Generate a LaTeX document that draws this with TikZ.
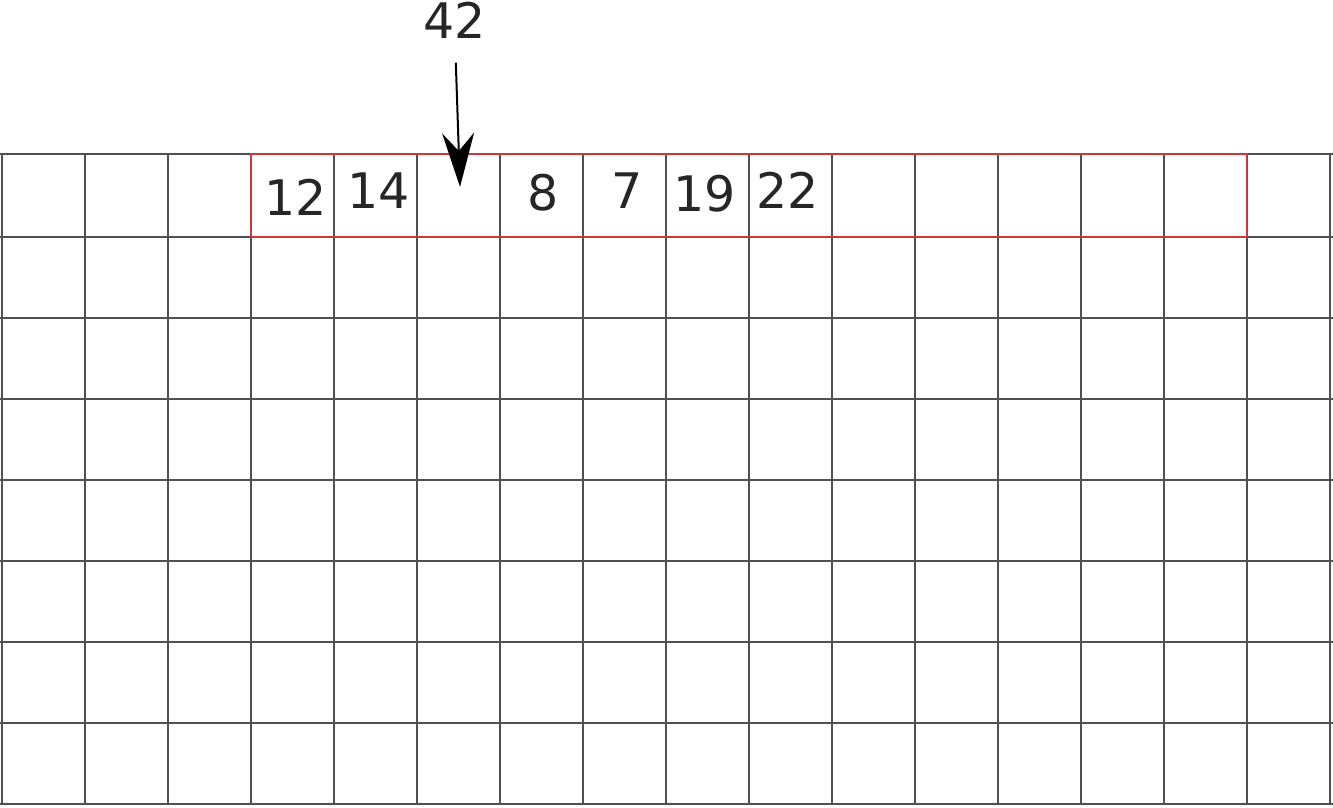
\documentclass[tikz,border=0pt]{standalone}
\usepackage{fontspec}
\setmainfont{DejaVu Sans}
\usetikzlibrary{positioning,arrows.meta}
\definecolor{gridgray}{RGB}{80,80,80}
\definecolor{markred}{RGB}{205,55,55}

\begin{document}
\begin{tikzpicture}[
  x=0.5pt,y=-0.5pt,
  every node/.style={font=\fontsize{24.5}{30}\selectfont,text=black!85,inner sep=0pt},
  gridline/.style={draw=gridgray,line width=1.1pt},
  window/.style={draw=markred,line width=1.3pt},
  arrow/.style={-{Stealth[length=27pt,width=16pt,inset=9pt]},line width=1pt}
]
  \useasboundingbox (0,0) rectangle (1333,808);
  % grid
  \foreach \i in {0,...,16}
    \draw[gridline] (2+83*\i,154) -- (2+83*\i,805);
  \draw[gridline] (0,154) -- (1333,154);
  \foreach \j in {0,...,7}
    \draw[gridline] (0,237+81*\j) -- (1333,237+81*\j);
  % marked row
  \draw[window] (251,154) rectangle (1247,237);
  \node (c1) at (296,197) {12};
  \node (c2) at (379,191) {14};
  \node (c3) at (543,193) {8};
  \node (c4) at (627,191) {7};
  \node (c5) at (705,194) {19};
  \node (c6) at (788,190) {22};
  % inserted value
  \node (val) at (455,20) {42};
  \coordinate (slot) at (460,187);
  \draw[arrow,shorten <=12pt] (val.south) -- (slot);
\end{tikzpicture}
\end{document}
